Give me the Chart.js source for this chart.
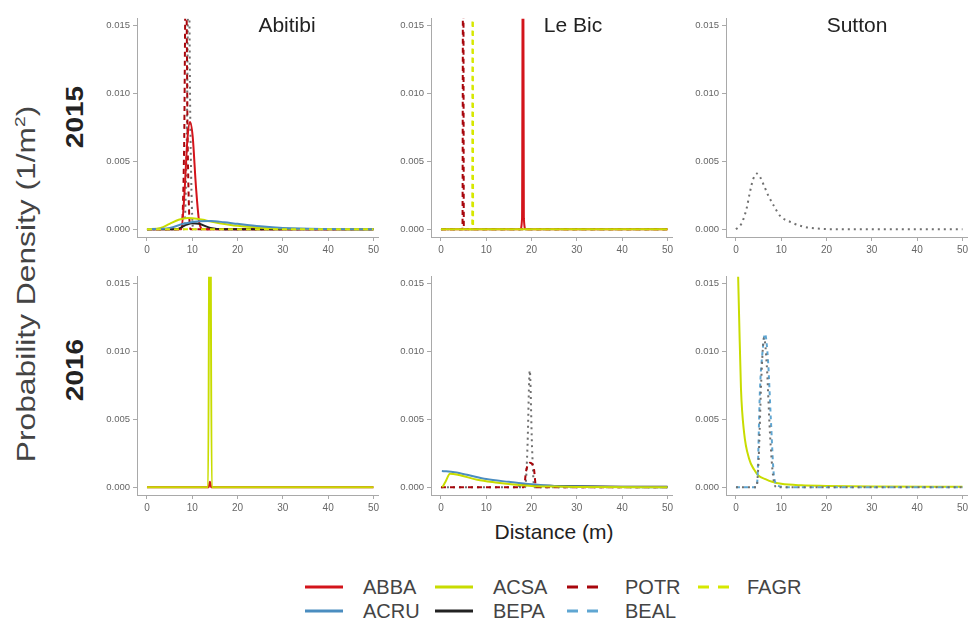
<!DOCTYPE html>
<html>
<head>
<meta charset="utf-8">
<script src="https://cdn.jsdelivr.net/npm/chart.js@4.4.1/dist/chart.umd.min.js"></script>
<style>
  body { margin: 0; background: #fff; font-family: "Liberation Sans", Arial, sans-serif; }
  #wrap { position: relative; width: 974px; height: 626px; overflow: hidden; }
  canvas { position: absolute; }
  .txt { position: absolute; white-space: nowrap; transform: translate(-50%, -50%); }
  .site { font-size: 21px; color: #222; }
  .year { font-size: 23px; font-weight: bold; color: #222; transform: translate(-50%, -50%) rotate(-90deg) scaleX(1.22); }
  .ytitle { font-size: 25px; color: #444; transform: translate(-50%, -50%) rotate(-90deg) scaleX(1.27); }
  .xtitle { font-size: 21px; color: #222; }
</style>
</head>
<body>
<div id="wrap">
  <canvas id="p0"></canvas><canvas id="p1"></canvas><canvas id="p2"></canvas>
  <canvas id="p3"></canvas><canvas id="p4"></canvas><canvas id="p5"></canvas>
  <div class="txt site" style="left:287px;top:25px">Abitibi</div>
  <div class="txt site" style="left:573px;top:25px">Le Bic</div>
  <div class="txt site" style="left:857px;top:25px">Sutton</div>
  <div class="txt year" style="left:75px;top:117px">2015</div>
  <div class="txt year" style="left:75px;top:370px">2016</div>
  <div class="txt ytitle" style="left:26px;top:284px">Probability Density (1/m<sup style="font-size:15px">2</sup>)</div>
  <div class="txt xtitle" style="left:554px;top:532px">Distance (m)</div>
  <div id="legend"></div>
</div>
<script>
// distance ticks and density ticks shared by every panel
const xTicks = [0, 10, 20, 30, 40, 50];
const yTicks = [0, 0.005, 0.010, 0.015];

// [distance (m), density (1/m2)] per species and site-year
// Abitibi 2015
const abi15_abba = [[0,0],[7.6,0],[8.3,0.0028],[8.9,0.0065],[9.5,0.0079],[10.1,0.0068],[10.8,0.0032],[11.6,0.0004],[12.4,0],[50,0]];
const abi15_acsa = [[0,0],[3,0.0001],[5,0.0004],[7,0.0007],[9,0.00082],[11,0.00078],[13,0.00065],[16,0.00045],[20,0.00025],[25,0.00012],[30,0.00005],[40,0.00001],[50,0]];
const abi15_acru = [[0,0],[5,0.0001],[8,0.0004],[11,0.00058],[14,0.0006],[17,0.00052],[20,0.0004],[25,0.00022],[30,0.0001],[40,0.00002],[50,0]];
const abi15_bepa = [[0,0],[6.5,0],[8.5,0.0003],[10,0.00045],[11.5,0.0004],[14,0.0001],[17,0],[50,0]];
const abi15_potr = [[0,0],[7.6,0],[8.2,0.006],[8.6,0.02],[9.0,0.006],[9.6,0],[50,0]];
const abi15_fagr = [[0,0],[50,0]];
const abi15_misc = [[0,0],[8.2,0],[8.8,0.007],[9.2,0.02],[9.6,0.007],[10.2,0],[50,0]];
// Le Bic 2015
const bic15_abba = [[0,0],[17.5,0],[17.9,0.0008],[18.1,0.03],[18.3,0.0008],[18.7,0],[50,0]];
const bic15_acsa = [[0,0],[50,0]];
const bic15_potr = [[0,0],[4.75,0],[4.9,0.03],[5.05,0],[50,0]];
const bic15_fagr = [[0,0],[6.9,0],[7.0,0.03],[7.1,0],[50,0]];
const bic15_misc = [[0,0],[50,0]];
// Sutton 2015
const sut15_misc = [[0,0],[1.2,0.0004],[1.8,0.0009],[2.4,0.0016],[3.0,0.0026],[3.8,0.0037],[4.6,0.0041],[5.4,0.0038],[6.2,0.0032],[7.1,0.0025],[8.4,0.0017],[9.7,0.001],[12.3,0.0005],[14.8,0.0002],[18,0.00005],[22,0],[50,0]];
// Abitibi 2016
const abi16_abba = [[0,0],[13.6,0],[13.9,0.0004],[14.2,0],[50,0]];
const abi16_acsa = [[0,0],[13.5,0],[13.9,0.03],[14.3,0],[50,0]];
// Le Bic 2016
const bic16_acru = [[0.2,0.0012],[3,0.0011],[6,0.0009],[10,0.0006],[15,0.0004],[20,0.00022],[25,0.0001],[30,0.00005],[40,0.00002],[50,0]];
const bic16_acsa = [[0.3,0],[1,0.0004],[2,0.001],[4,0.0009],[8,0.00055],[12,0.00035],[16,0.0002],[20,0.0001],[25,0.00005],[30,0.00002],[50,0]];
const bic16_bepa = [[17,0.00012],[19,0.00018],[22,0.00012],[25,0.0001],[30,0.00007],[40,0.00004],[50,0.00003]];
const bic16_potr = [[0,0],[18.3,0],[18.8,0.0012],[19.6,0.0018],[20.5,0.0014],[21,0],[50,0]];
const bic16_misc = [[0,0],[18.6,0],[19.1,0.003],[19.6,0.0086],[20.1,0.003],[20.6,0],[50,0]];
// Sutton 2016
const sut16_acsa = [[0.3,0.018],[0.7,0.0125],[1.1,0.0073],[1.8,0.004],[2.9,0.0021],[4,0.0013],[5,0.00085],[6.5,0.0006],[8,0.0004],[10,0.00025],[14.5,0.00014],[20,0.0001],[30,0.00005],[50,0.00003]];
const sut16_beal = [[0,0],[4.4,0],[4.7,0.0004],[5.3,0.0072],[5.9,0.0101],[6.4,0.0113],[7.1,0.0092],[7.7,0.005],[8.4,0.0008],[9.3,0.0001],[12,0],[50,0]];
const sut16_misc = [[0,0],[4.5,0],[5.0,0.002],[5.6,0.008],[6.2,0.011],[6.8,0.009],[7.5,0.004],[8.2,0.0008],[9,0],[50,0]];

const legendNames = ["ABBA", "ACSA", "POTR", "FAGR", "ACRU", "BEPA", "BEAL"];

const styles = {
  ABBA: { color: "#d3141b", dash: [] },
  ACSA: { color: "#c8dc00", dash: [] },
  POTR: { color: "#a8060c", dash: [5, 4] },
  FAGR: { color: "#d6e800", dash: [5, 4] },
  ACRU: { color: "#4b8dc0", dash: [] },
  BEPA: { color: "#222222", dash: [] },
  BEAL: { color: "#5fa6d2", dash: [4, 4] },
  misc: { color: "#707070", dash: [2, 4] }
};

const panels = [
  { id: "p0", left: 92,  top: 10,  series: [["FAGR", abi15_fagr], ["ACRU", abi15_acru], ["ACSA", abi15_acsa], ["BEPA", abi15_bepa], ["ABBA", abi15_abba], ["POTR", abi15_potr], ["misc", abi15_misc]] },
  { id: "p1", left: 386, top: 10,  series: [["ACSA", bic15_acsa], ["misc", bic15_misc], ["POTR", bic15_potr], ["FAGR", bic15_fagr], ["ABBA", bic15_abba]] },
  { id: "p2", left: 681, top: 10,  series: [["misc", sut15_misc]] },
  { id: "p3", left: 92,  top: 268, series: [["ACSA", abi16_acsa], ["ABBA", abi16_abba]] },
  { id: "p4", left: 386, top: 268, series: [["ACSA", bic16_acsa], ["ACRU", bic16_acru], ["POTR", bic16_potr], ["BEPA", bic16_bepa], ["misc", bic16_misc]] },
  { id: "p5", left: 681, top: 268, series: [["misc", sut16_misc], ["BEAL", sut16_beal], ["ACSA", sut16_acsa]] }
];

const axisGrey = "#a9a9a9";

panels.forEach(p => {
  const cv = document.getElementById(p.id);
  cv.width = 293;
  cv.height = 251;
  cv.style.left = p.left + "px";
  cv.style.top = p.top + "px";

  const datasets = p.series.map(([name, pts]) => ({
    label: name,
    data: pts.map(([x, y]) => ({ x, y })),
    borderColor: styles[name].color,
    borderDash: styles[name].dash,
    borderWidth: 2,
    pointRadius: 0,
    showLine: true,
    cubicInterpolationMode: "monotone",
    fill: false
  }));

  new Chart(cv.getContext("2d"), {
    type: "scatter",
    data: { datasets },
    options: {
      responsive: false,
      animation: false,
      layout: { padding: { top: 0, right: 7, bottom: 0, left: 0 } },
      plugins: { legend: { display: false }, tooltip: { enabled: false } },
      scales: {
        x: {
          type: "linear",
          min: -2.2,
          max: 51,
          afterBuildTicks: s => { s.ticks = xTicks.map(v => ({ value: v })); },
          afterFit: s => { s.height = 24; },
          grid: { drawOnChartArea: false, tickLength: 4, color: axisGrey },
          border: { color: axisGrey },
          ticks: { color: "#666", font: { size: 10 }, padding: 3, maxRotation: 0 }
        },
        y: {
          min: -0.00057,
          max: 0.0155,
          afterBuildTicks: s => { s.ticks = yTicks.map(v => ({ value: v })); },
          afterFit: s => { s.width = 45; },
          grid: { drawOnChartArea: false, tickLength: 4, color: axisGrey },
          border: { color: axisGrey },
          ticks: { color: "#666", font: { size: 9.5 }, padding: 3, callback: v => v.toFixed(3) }
        }
      }
    }
  });
});

// legend: two rows of four swatches under the panels
const legend = document.getElementById("legend");
const colX = [0, 130, 262, 393];
const txtX = [58, 188, 320, 442];
legendNames.forEach((name, i) => {
  const row = Math.floor(i / 4), col = i % 4;
  const st = styles[name];
  const y = 577 + row * 24;
  const sw = document.createElementNS("http://www.w3.org/2000/svg", "svg");
  sw.setAttribute("width", 42);
  sw.setAttribute("height", 20);
  sw.style.position = "absolute";
  sw.style.left = (305 + colX[col]) + "px";
  sw.style.top = y + "px";
  const ln = document.createElementNS("http://www.w3.org/2000/svg", "line");
  const dashed = st.dash.length > 0;
  ln.setAttribute("x1", 0);
  ln.setAttribute("x2", dashed ? 32 : 38);
  ln.setAttribute("y1", 10);
  ln.setAttribute("y2", 10);
  ln.setAttribute("stroke", st.color);
  ln.setAttribute("stroke-width", 3);
  if (dashed) ln.setAttribute("stroke-dasharray", "11 9");
  sw.appendChild(ln);
  legend.appendChild(sw);
  const t = document.createElement("div");
  t.textContent = name;
  t.style.cssText = "position:absolute;font-size:20px;color:#444;line-height:20px;left:" + (305 + txtX[col]) + "px;top:" + y + "px";
  legend.appendChild(t);
});
</script>
</body>
</html>
